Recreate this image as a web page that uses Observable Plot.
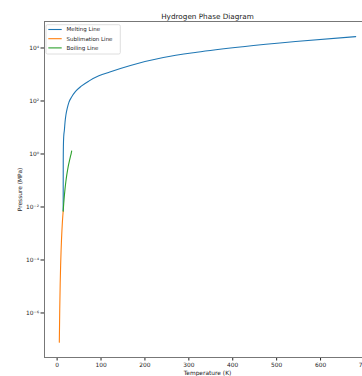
<!DOCTYPE html>
<html><head><meta charset="utf-8">
<script src="https://cdn.jsdelivr.net/npm/d3@7"></script>
<script src="https://cdn.jsdelivr.net/npm/@observablehq/plot@0.6"></script>
<style>html,body{margin:0;padding:0;overflow:hidden;background:#fff} #chart svg{max-width:none !important;width:380px !important;height:376px !important;display:block}</style>
</head><body><div id="chart"></div>
<script>
// ---- data ----
const title = "Hydrogen Phase Diagram";
const xLabel = "Temperature (K)";
const yLabel = "Pressure (MPa)";
const seriesNames = ["Melting Line", "Sublimation Line", "Boiling Line"];
const seriesColors = ["#1f77b4", "#ff7f0e", "#2ca02c"];

const meltT = [13.8, 13.85, 13.95, 14.3, 15, 16.5, 18, 20, 23, 27, 33, 42, 55, 73, 95, 120, 167, 242, 318, 423, 543, 680];
const meltP = [0.0072, 0.05, 0.5, 2, 4.5, 7.9, 15.8, 29.5, 52.5, 91, 141, 229, 363, 575, 890, 1250, 2200, 4350, 6900, 11200, 17500, 26800];

const subT = [5, 6, 7, 8, 9, 10, 11, 12, 13, 13.8];
const subP = [7.9e-8, 1.5e-6, 1.3e-5, 6.4e-5, 2.2e-4, 6.0e-4, 1.35e-3, 2.7e-3, 4.7e-3, 7.0e-3];

const boilT = [13.8, 15, 16, 18, 20, 22, 24, 26, 28, 30, 32, 33.2];
const boilP = [0.0070, 0.0134, 0.0215, 0.0481, 0.0934, 0.162, 0.257, 0.386, 0.553, 0.765, 1.04, 1.30];

const xTicks = [0, 100, 200, 300, 400, 500, 600, 700];
const yTicks = [1e-6, 1e-4, 1e-2, 1e0, 1e2, 1e4];

// ---- build table ----
const rows = (T, P, s) => T.map((t, i) => ({T: t, P: P[i], series: s}));
const data = [
  ...rows(meltT, meltP, seriesNames[0]),
  ...rows(subT, subP, seriesNames[1]),
  ...rows(boilT, boilP, seriesNames[2])
];

const supMap = {"-": "\u207B", "0": "\u2070", "1": "\u00B9", "2": "\u00B2", "3": "\u00B3", "4": "\u2074", "5": "\u2075", "6": "\u2076", "7": "\u2077", "8": "\u2078", "9": "\u2079"};
const fmtPow = d => "10" + String(Math.round(Math.log10(d))).split("").map(c => supMap[c]).join("");

const chart = Plot.plot({
  width: 380, height: 376,
  marginLeft: 44, marginRight: 10, marginTop: 21, marginBottom: 19,
  style: {fontFamily: "'DejaVu Sans', sans-serif", fontSize: "5.9px", color: "#222", background: "#fff", maxWidth: "none"},
  x: {domain: [-28.75, 713.75]},
  y: {type: "log", domain: [Math.pow(10, -7.68), 1e5]},
  color: {domain: seriesNames, range: seriesColors},
  marks: [
    Plot.axisX({ticks: xTicks, tickSize: 3.5, tickPadding: 2, tickFormat: d => String(d),
      label: xLabel, labelAnchor: "center", labelArrow: "none", labelOffset: 17}),
    Plot.axisY({ticks: yTicks, tickSize: 3.5, tickPadding: 2, tickFormat: fmtPow,
      label: yLabel, labelAnchor: "center", labelArrow: "none", labelOffset: 27}),
    Plot.frame({stroke: "#777", strokeWidth: 1}),
    Plot.line(data, {x: "T", y: "P", z: "series", stroke: "series", strokeWidth: 1.1, curve: "monotone-x"}),
    Plot.text([title], {frameAnchor: "top", lineAnchor: "bottom", dy: -3, fontSize: 7.25, fill: "#222"})
  ]
});
document.getElementById("chart").appendChild(chart);

// ---- legend (upper left, matplotlib style) ----
const svg = d3.select(chart);
const lg = svg.append("g").attr("font-family", "'DejaVu Sans', sans-serif").attr("font-size", 5.5).attr("text-anchor", "start");
lg.append("rect").attr("x", 46).attr("y", 24.7).attr("width", 74.3).attr("height", 29.3)
  .attr("rx", 1.5).attr("fill", "#fff").attr("fill-opacity", 0.8).attr("stroke", "#d6d6d6").attr("stroke-width", 0.8);
seriesNames.forEach((name, i) => {
  const y = 29.5 + i * 9.2;
  lg.append("line").attr("x1", 48.3).attr("x2", 61.7).attr("y1", y).attr("y2", y)
    .attr("stroke", seriesColors[i]).attr("stroke-width", 1.1);
  lg.append("text").attr("x", 66.5).attr("y", y).attr("dy", "0.35em").attr("fill", "#222").text(name);
});
</script>
</body></html>
